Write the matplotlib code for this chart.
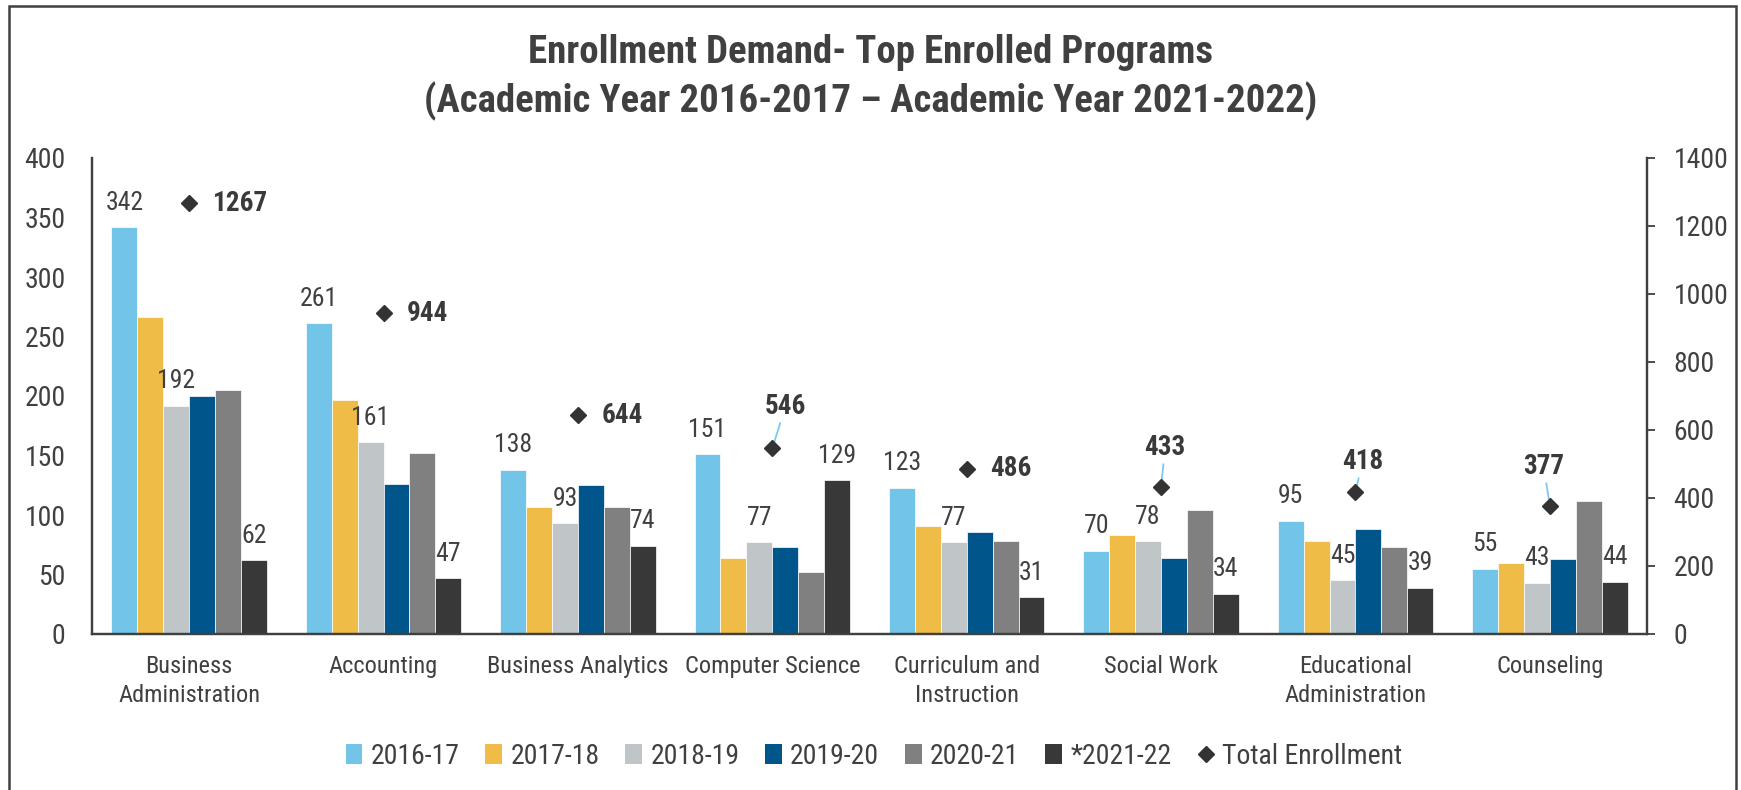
import matplotlib
matplotlib.use("Agg")
import matplotlib.pyplot as plt
import numpy as np
from matplotlib import font_manager
from matplotlib.lines import Line2D
from matplotlib.patches import Rectangle, Patch

# ---- data -------------------------------------------------------------
programs = ["Business\nAdministration", "Accounting", "Business Analytics",
            "Computer Science", "Curriculum and\nInstruction", "Social Work",
            "Educational\nAdministration", "Counseling"]
years = ["2016-17", "2017-18", "2018-19", "2019-20", "2020-21", "*2021-22"]
y2016 = [342, 261, 138, 151, 123, 70, 95, 55]
y2017 = [266, 197, 107, 64, 91, 83, 78, 60]
y2018 = [192, 161, 93, 77, 77, 78, 45, 43]
y2019 = [200, 126, 125, 73, 86, 64, 88, 63]
y2020 = [205, 152, 107, 52, 78, 104, 73, 112]
y2021 = [62, 47, 74, 129, 31, 34, 39, 44]
totals = [1267, 944, 644, 546, 486, 433, 418, 377]
left_ticks = [0, 50, 100, 150, 200, 250, 300, 350, 400]
right_ticks = [0, 200, 400, 600, 800, 1000, 1200, 1400]

# ---- style ------------------------------------------------------------
series = [y2016, y2017, y2018, y2019, y2020, y2021]
colors = ["#72C5E9", "#EFBC48", "#C0C5C8", "#00558B", "#808080", "#383838"]
show_values = [True, False, True, False, False, True]
TXT = "#404040"

# total-label placement: (dx, dy) in points, leader line or not
total_pos = [(17, 0, False), (17, 0, False), (17, 0, False), (9.4, 30, True),
             (17, 0, False), (2.9, 28, True), (5, 21.6, True), (-4.3, 28, True)]


def pick_family():
    """Prefer a narrow sans face when one is installed."""
    entries = font_manager.fontManager.ttflist
    names = {f.name for f in entries}
    for fam in ["Liberation Sans Narrow", "Arial Narrow", "Roboto Condensed",
                "Open Sans Condensed", "Noto Sans Condensed",
                "DejaVu Sans Condensed"]:
        if fam in names:
            return fam, "normal"
    condensed = {"condensed", "semi-condensed", "extra-condensed"}
    for fam in ["Noto Sans", "Open Sans", "Roboto", "Inter"]:
        for f in entries:
            if f.name == fam and (f.stretch in condensed or
                                  (isinstance(f.stretch, int) and f.stretch < 100)):
                return fam, "condensed"
    return "Liberation Sans", "normal"


family, stretch = pick_family()
narrow = stretch == "condensed" or family != "Liberation Sans"
plt.rcParams["font.family"] = [family, "DejaVu Sans"]
plt.rcParams["font.stretch"] = stretch
k = 1.0 if narrow else 0.92  # wide fallback face gets slightly smaller text

fig = plt.figure(figsize=(17.41, 7.90), dpi=100)
ax = fig.add_axes([92 / 1741, 156 / 790, (1647 - 92) / 1741, (634 - 158) / 790])
ax2 = ax.twinx()

x = np.arange(len(programs))
n = len(series)
group = 0.8
bw = group / n

for i, (vals, col, lab) in enumerate(zip(series, colors, show_values)):
    pos = x - group / 2 + bw * (i + 0.5)
    bars = ax.bar(pos, vals, width=bw, color=col, edgecolor="white",
                  linewidth=0.5, label=years[i], zorder=2)
    if lab:
        for b, v in zip(bars, vals):
            ax.annotate(f"{v}", (b.get_x() + b.get_width() / 2, v),
                        xytext=(0, 9), textcoords="offset points",
                        ha="center", va="bottom", fontsize=18.5 * k, color=TXT)

ax.set_xlim(-0.5, len(programs) - 0.5)
ax.set_ylim(0, 400)
ax.set_yticks(left_ticks)
ax.set_xticks(x)
ax.set_xticklabels(programs, fontsize=17.6 * k, color=TXT, linespacing=1.35)
ax.tick_params(axis="x", length=0, pad=15)
ax.tick_params(axis="y", length=0, pad=19, labelsize=20 * k, labelcolor=TXT)

ax2.set_ylim(0, 1400)
ax2.set_yticks(right_ticks)
ax2.tick_params(axis="y", which="major", length=6, width=1.3, color=TXT,
                direction="out", pad=13, labelsize=20 * k, labelcolor=TXT)

for a in (ax, ax2):
    a.spines["top"].set_visible(False)
    for s in ("left", "right", "bottom"):
        a.spines[s].set_color(TXT)
        a.spines[s].set_linewidth(1.6)

ax2.plot(x, totals, linestyle="none", marker="D", markersize=8.5,
         color="#333333", zorder=4)
for xi, t, (dx, dy, lead) in zip(x, totals, total_pos):
    if lead:
        ax2.annotate(f"{t}", (xi, t), xytext=(dx, dy), textcoords="offset points",
                     ha="center", va="center", fontsize=19.5 * k,
                     fontweight="bold", color="#3A3A3A",
                     arrowprops=dict(arrowstyle="-", color="#7CC8F2", lw=1.3,
                                     shrinkA=0, shrinkB=0))
    else:
        ax2.annotate(f"{t}", (xi, t), xytext=(dx, dy), textcoords="offset points",
                     ha="left", va="center", fontsize=19.5 * k,
                     fontweight="bold", color="#3A3A3A")

fig.text(0.5, 0.902,
         "Enrollment Demand- Top Enrolled Programs\n"
         "(Academic Year 2016-2017 \u2013 Academic Year 2021-2022)",
         ha="center", va="center", fontsize=(28 if narrow else 26),
         fontweight="bold", color="#404040", linespacing=1.35)

handles = [Patch(facecolor=c, edgecolor="none") for c in colors]
handles.append(Line2D([], [], linestyle="none", marker="D", markersize=8,
                      color="#333333"))
labels = years + ["Total Enrollment"]
fig.legend(handles, labels, loc="center", bbox_to_anchor=(0.502, 0.043),
           ncol=7, frameon=False, fontsize=20 * (1.0 if narrow else 0.98),
           labelcolor=TXT, handlelength=0.6, handleheight=0.75,
           handletextpad=0.3, columnspacing=0.93)

# outer frame around the chart area
fig.patches.append(Rectangle((9 / 1741, -0.05), (1736 - 9) / 1741,
                             1.05 - 6 / 790, transform=fig.transFigure,
                             fill=False, edgecolor="#404040", linewidth=1.8,
                             clip_on=False))

fig.savefig("out.png", dpi=100)
